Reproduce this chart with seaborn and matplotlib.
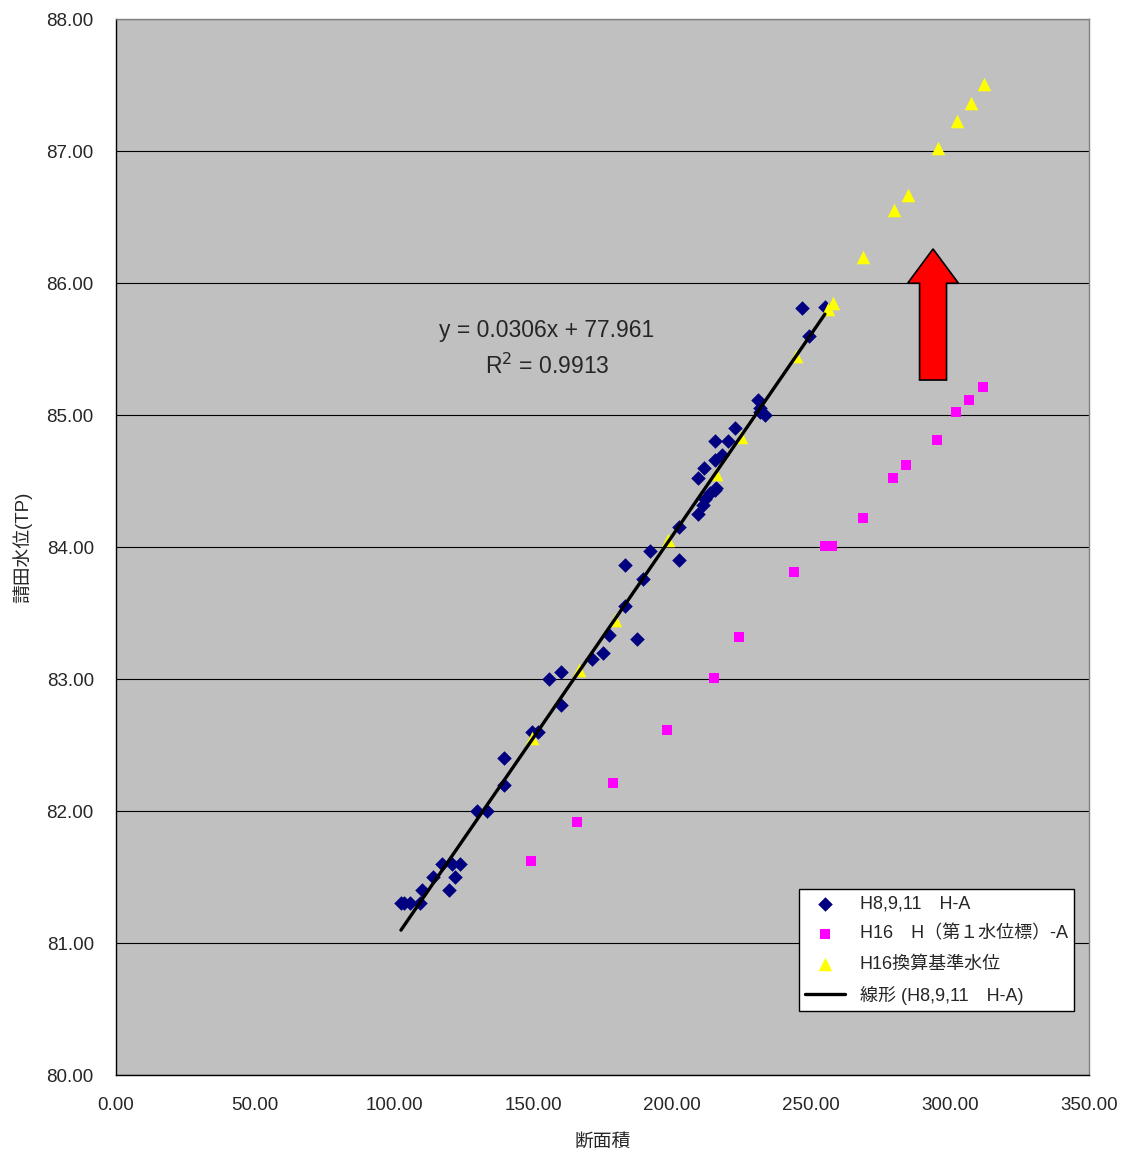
import numpy as np
import pandas as pd
import matplotlib
matplotlib.use("Agg")
import matplotlib.pyplot as plt
import seaborn as sns
from matplotlib.patches import FancyArrow

# ---- data ----
blue_x = [102.5, 103.6, 105.8, 109.4, 110.0, 114.0, 117.3, 119.8, 121.0, 122.0, 123.7,
          130.0, 133.5, 139.6, 139.6, 149.6, 151.8, 155.8, 160.0, 160.0, 171.2, 175.2,
          177.3, 183.0, 183.0, 187.4, 189.6, 192.0, 202.5, 202.5, 209.4, 209.4, 211.0,
          211.9, 211.5, 213.7, 215.5, 215.8, 215.5, 215.5, 218.0, 220.0, 222.7, 231.0,
          231.7, 233.5, 231.7, 246.8, 249.3, 255.0]
blue_y = [81.30, 81.30, 81.30, 81.30, 81.40, 81.50, 81.60, 81.40, 81.60, 81.50, 81.60,
          82.00, 82.00, 82.20, 82.40, 82.60, 82.60, 83.00, 82.80, 83.05, 83.15, 83.20,
          83.33, 83.55, 83.86, 83.30, 83.76, 83.97, 83.90, 84.15, 84.25, 84.52, 84.32,
          84.36, 84.60, 84.41, 84.43, 84.45, 84.66, 84.80, 84.70, 84.80, 84.90, 85.11,
          85.05, 85.00, 85.02, 85.81, 85.60, 85.82]

mag_x = [149.3, 165.8, 178.8, 198.2, 215.1, 224.1, 243.9, 255.0, 257.6, 268.7, 279.5,
         284.2, 295.3, 302.2, 306.8, 311.9]
mag_y = [81.62, 81.92, 82.21, 82.61, 83.01, 83.32, 83.81, 84.01, 84.01, 84.22, 84.52,
         84.62, 84.81, 85.02, 85.11, 85.21]

yel_x = [149.8, 166.5, 179.5, 198.6, 215.8, 224.8, 244.6, 256.0, 258.0, 268.7, 279.8,
         284.9, 295.7, 302.5, 307.6, 312.2]
yel_y = [82.55, 83.07, 83.45, 84.05, 84.55, 84.83, 85.45, 85.80, 85.85, 86.20, 86.55,
         86.67, 87.02, 87.23, 87.36, 87.51]

fit_slope = 0.0306
fit_intercept = 77.961
eq_text = "y = 0.0306x + 77.961"
r2_text = "R$^2$ = 0.9913"

labels = ["H8,9,11\u3000H-A", "H16\u3000H（第１水位標）-A", "H16換算基準水位",
          "線形 (H8,9,11\u3000H-A)"]
xticks = [0, 50, 100, 150, 200, 250, 300, 350]
yticks = [80, 81, 82, 83, 84, 85, 86, 87, 88]
xlabel = "断面積"
ylabel = "請田水位(TP)"

# ---- style ----
sns.set_style("white")
plt.rcParams['font.family'] = ['Liberation Sans', 'Noto Sans CJK JP', 'DejaVu Sans']

fig = plt.figure(figsize=(11.21, 11.49), dpi=100)
ax = fig.add_axes([116/1121, 1 - 1075/1149, 973/1121, 1056/1149])
ax.set_facecolor("#C0C0C0")

df_b = pd.DataFrame({"x": blue_x, "y": blue_y})
df_m = pd.DataFrame({"x": mag_x, "y": mag_y})
df_y = pd.DataFrame({"x": yel_x, "y": yel_y})

sns.scatterplot(data=df_b, x="x", y="y", marker="D", s=55, color="#000080",
                linewidth=0, ax=ax, label=labels[0], zorder=3)
sns.scatterplot(data=df_m, x="x", y="y", marker="s", s=62, color="#FF00FF",
                linewidth=0, ax=ax, label=labels[1], zorder=3)
sns.scatterplot(data=df_y, x="x", y="y", marker="^", s=95, color="#FFFF00",
                linewidth=0, ax=ax, label=labels[2], zorder=3)

fx = np.array([min(blue_x), max(blue_x)])
df_f = pd.DataFrame({"x": fx, "y": fit_slope * fx + fit_intercept})
sns.lineplot(data=df_f, x="x", y="y", color="black", linewidth=2.4, ax=ax,
             label=labels[3], zorder=4)

ax.set_xlim(0, 350)
ax.set_ylim(80, 88)
ax.set_xticks(xticks)
ax.set_yticks(yticks)
ax.set_xticklabels([f"{v:.2f}" for v in xticks], fontsize=13.5)
ax.set_yticklabels([f"{v:.2f}" for v in yticks], fontsize=13.5)
ax.tick_params(axis="both", length=4, width=1, color="black", direction="out")
ax.tick_params(axis="y", pad=12)
ax.tick_params(axis="x", pad=12)
ax.yaxis.grid(True, color="black", linewidth=0.8)
ax.xaxis.grid(False)
ax.set_axisbelow(True)
for s in ["left", "bottom"]:
    ax.spines[s].set_color("black")
    ax.spines[s].set_linewidth(1)
for s in ["top", "right"]:
    ax.spines[s].set_color("#808080")
    ax.spines[s].set_linewidth(1)

ax.set_xlabel(xlabel, fontsize=13.5, labelpad=14)
ax.set_ylabel(ylabel, fontsize=13.5, labelpad=10)

ax.text(155, 85.64, eq_text, fontsize=16.5, ha="center", va="center")
ax.text(155, 85.37, r2_text, fontsize=16.5, ha="center", va="center")

arrow = FancyArrow(293.9, 85.265, 0, 0.993, width=9.7, head_width=18.3,
                   head_length=0.26, length_includes_head=True,
                   facecolor="#FF0000", edgecolor="black", linewidth=1.2, zorder=5)
ax.add_patch(arrow)

leg = ax.legend(loc="lower left", bbox_to_anchor=(0.702, 0.0606), borderaxespad=0,
                fontsize=13, frameon=True, fancybox=False, edgecolor="black",
                framealpha=1, handlelength=2.2, labelspacing=0.72, borderpad=0.35)
leg.get_frame().set_linewidth(1)

fig.savefig("out.png", dpi=100, facecolor="white")
